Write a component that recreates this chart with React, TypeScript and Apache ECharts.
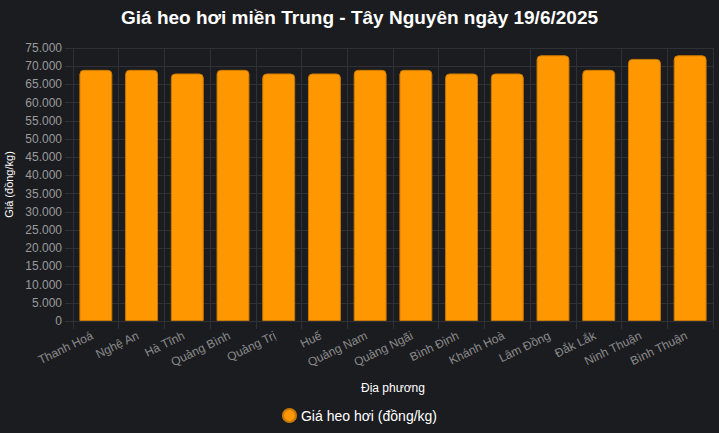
import * as echarts from 'echarts';
import React, { useEffect, useRef } from 'react';

const provinces = [
  'Thanh Hoá',
  'Nghệ An',
  'Hà Tĩnh',
  'Quảng Bình',
  'Quảng Trị',
  'Huế',
  'Quảng Nam',
  'Quảng Ngãi',
  'Bình Định',
  'Khánh Hoà',
  'Lâm Đồng',
  'Đắk Lắk',
  'Ninh Thuận',
  'Bình Thuận',
];

const prices = [69000, 69000, 68000, 69000, 68000, 68000, 69000, 69000, 68000, 68000, 73000, 69000, 72000, 73000];

const seriesName = 'Giá heo hơi (đồng/kg)';
const titleText = 'Giá heo hơi miền Trung - Tây Nguyên ngày 19/6/2025';

const FONT = '"Liberation Sans", Arial, Helvetica, sans-serif';
const GRID_COLOR = '#2f3137';

const App = () => {
  const chartRef = useRef<HTMLDivElement>(null);

  useEffect(() => {
    document.body.style.margin = '0';
    if (!chartRef.current) return;
    const chart = echarts.init(chartRef.current, null, { renderer: 'svg' });

    chart.setOption({
      animation: false,
      backgroundColor: '#1b1c20',
      textStyle: { fontFamily: FONT },
      title: {
        text: titleText,
        left: 'center',
        top: 3,
        textStyle: { color: '#ffffff', fontSize: 19, fontWeight: 'bold', fontFamily: FONT },
      },
      legend: {
        bottom: 5,
        left: 'center',
        icon: 'circle',
        itemWidth: 13,
        itemHeight: 13,
        textStyle: { color: '#ffffff', fontSize: 14, fontFamily: FONT },
        data: [seriesName],
      },
      grid: { left: 73, right: 6, top: 48, bottom: 112, containLabel: false, outerBoundsMode: 'none' },
      xAxis: {
        type: 'category',
        data: provinces,
        name: 'Địa phương',
        nameLocation: 'middle',
        nameGap: 61,
        nameTextStyle: { color: '#ffffff', fontSize: 12, fontFamily: FONT },
        axisLine: { lineStyle: { color: GRID_COLOR } },
        axisTick: { show: true, length: 8, lineStyle: { color: GRID_COLOR } },
        axisLabel: {
          color: '#8a8a8a',
          fontSize: 12,
          rotate: 26,
          margin: 12,
          padding: [0, 4, 0, 0],
          interval: 0,
          fontFamily: FONT,
        },
        splitLine: { show: true, lineStyle: { color: GRID_COLOR } },
      },
      yAxis: {
        type: 'value',
        min: 0,
        max: 75000,
        interval: 5000,
        name: 'Giá (đồng/kg)',
        nameLocation: 'middle',
        nameGap: 58,
        nameTextStyle: { color: '#ffffff', fontSize: 11, fontFamily: FONT },
        axisLine: { show: true, lineStyle: { color: GRID_COLOR } },
        axisTick: { show: true, length: 8, lineStyle: { color: GRID_COLOR } },
        axisLabel: {
          color: '#9a9a9a',
          fontSize: 12,
          margin: 11,
          fontFamily: FONT,
          formatter: (v: number) => v.toLocaleString('de-DE'),
        },
        splitLine: { show: true, lineStyle: { color: GRID_COLOR } },
      },
      series: [
        {
          name: seriesName,
          type: 'bar',
          data: prices,
          barCategoryGap: '28%',
          itemStyle: {
            color: '#ff9800',
            borderColor: '#c97800',
            borderWidth: 1,
            borderRadius: [4, 4, 0, 0],
          },
        },
      ],
    });

    return () => chart.dispose();
  }, []);

  return <div ref={chartRef} style={{ width: 719, height: 433 }} />;
};

export default App;
